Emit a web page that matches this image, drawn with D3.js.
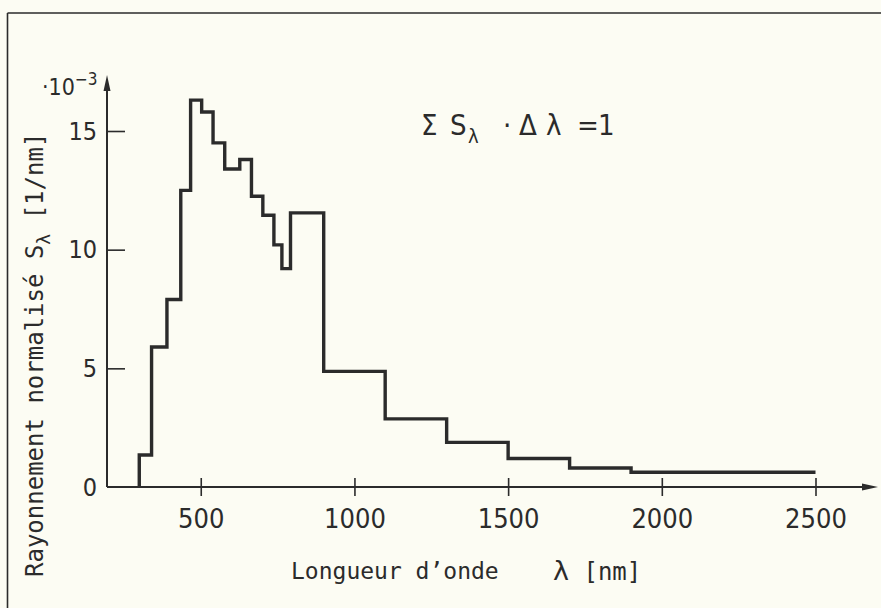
<!DOCTYPE html>
<html>
<head>
<meta charset="utf-8">
<script src="https://cdn.jsdelivr.net/npm/d3@7"></script>
<style>
  html, body { margin: 0; padding: 0; background: #fcfcf3; }
  svg { display: block; }
  text { font-family: "DejaVu Sans Mono", "Liberation Mono", monospace; fill: #2b2b2b; }
  .cond { font-family: "DejaVu Sans", sans-serif; font-stretch: condensed; }
</style>
</head>
<body>
<svg id="chart" width="881" height="608"></svg>
<script>
// Bin edges (nm) and normalised irradiance values (×10^-3 per nm)
const binEdges = [300, 340, 390, 435, 467, 503, 540, 578, 627, 665, 702, 738, 764, 792, 900, 1100, 1300, 1500, 1700, 1900, 2500];
const binValues = [1.35, 5.9, 7.9, 12.5, 16.3, 15.8, 14.5, 13.4, 13.8, 12.25, 11.45, 10.2, 9.2, 11.55, 4.87, 2.87, 1.88, 1.2, 0.8, 0.62];
const xTicks = [500, 1000, 1500, 2000, 2500];
const yTicks = [0, 5, 10, 15];

const ink = "#2b2b2b";
const svg = d3.select("#chart");

const x = d3.scaleLinear().domain([195, 2500]).range([107, 815.5]);
const y = d3.scaleLinear().domain([0, 15]).range([487, 131]);

// frame
svg.append("line").attr("x1", 7.5).attr("x2", 881).attr("y1", 13).attr("y2", 13)
  .attr("stroke", ink).attr("stroke-width", 1.6);
svg.append("line").attr("x1", 7.5).attr("x2", 7.5).attr("y1", 13).attr("y2", 608)
  .attr("stroke", ink).attr("stroke-width", 1.6);

// step curve
const pts = [[binEdges[0], 0]];
binValues.forEach((v, i) => pts.push([binEdges[i], v]));
pts.push([binEdges[binEdges.length - 1], binValues[binValues.length - 1]]);
const line = d3.line().x(d => x(d[0])).y(d => y(d[1])).curve(d3.curveStepAfter);
svg.append("path").attr("d", line(pts)).attr("fill", "none")
  .attr("stroke", ink).attr("stroke-width", 3.4).attr("stroke-linejoin", "miter");

// x axis
const xAxisG = svg.append("g").attr("transform", `translate(0,${y(0)})`)
  .call(d3.axisBottom(x).tickValues(xTicks).tickSize(9).tickPadding(13).tickFormat(d3.format("d")));
xAxisG.select(".domain").remove();
xAxisG.selectAll(".tick line").attr("y1", -9).attr("stroke", ink).attr("stroke-width", 1.6);
xAxisG.selectAll(".tick text").attr("class", "cond").attr("font-size", 27).style("fill", ink);
svg.append("line").attr("x1", x.range()[0]).attr("x2", 866).attr("y1", y(0)).attr("y2", y(0))
  .attr("stroke", ink).attr("stroke-width", 2);
svg.append("path").attr("d", `M878,${y(0)} L862,${y(0) - 3.5} L862,${y(0) + 3.5} Z`).attr("fill", ink);

// y axis
const yAxisG = svg.append("g").attr("transform", `translate(${x.range()[0]},0)`)
  .call(d3.axisLeft(y).tickValues(yTicks).tickSize(-18).tickPadding(10));
yAxisG.select(".domain").remove();
yAxisG.selectAll(".tick line").attr("stroke", ink).attr("stroke-width", 1.6);
yAxisG.selectAll(".tick").filter(d => d === 0).select("line").remove();
yAxisG.selectAll(".tick text").attr("class", "cond").attr("font-size", 25).style("fill", ink);
svg.append("line").attr("x1", x.range()[0]).attr("x2", x.range()[0]).attr("y1", y(0)).attr("y2", 88)
  .attr("stroke", ink).attr("stroke-width", 2);
svg.append("path").attr("d", `M${x.range()[0]},75 L${x.range()[0] - 3.5},91 L${x.range()[0] + 3.5},91 Z`).attr("fill", ink);

// multiplier
const mult = svg.append("text").attr("class", "cond").attr("x", 42).attr("y", 95).attr("font-size", 23);
mult.append("tspan").text("·10");
mult.append("tspan").attr("font-size", 17).attr("dy", -10).text("−3");

// formula
const f = svg.append("text").attr("class", "cond").attr("y", 135).attr("font-size", 29);
f.append("tspan").attr("x", 421).text("Σ");
f.append("tspan").attr("x", 450).text("S");
f.append("tspan").attr("x", 468).attr("font-size", 20).attr("dy", 8).text("λ");
f.append("tspan").attr("x", 503).attr("dy", -8).text("·");
f.append("tspan").attr("x", 519).text("Δ");
f.append("tspan").attr("x", 546).text("λ");
f.append("tspan").attr("x", 577).text("=");
f.append("tspan").attr("x", 598).text("1");

// x label
svg.append("text").attr("x", 291).attr("y", 579).attr("font-size", 23).text("Longueur d\u2019onde");
const xl = svg.append("text").attr("x", 553).attr("y", 580).attr("font-size", 24);
xl.append("tspan").attr("font-family", "DejaVu Sans").attr("font-size", 27).text("λ");
xl.append("tspan").text(" [nm]");

// y label (rotated)
const yl = svg.append("text").attr("transform", "translate(43,577) rotate(-90)").attr("font-size", 24);
yl.append("tspan").text("Rayonnement normalisé  S");
yl.append("tspan").attr("font-size", 18).attr("dy", 7).text("λ");
yl.append("tspan").attr("dy", -7).text("  [1/nm]");
</script>
</body>
</html>
